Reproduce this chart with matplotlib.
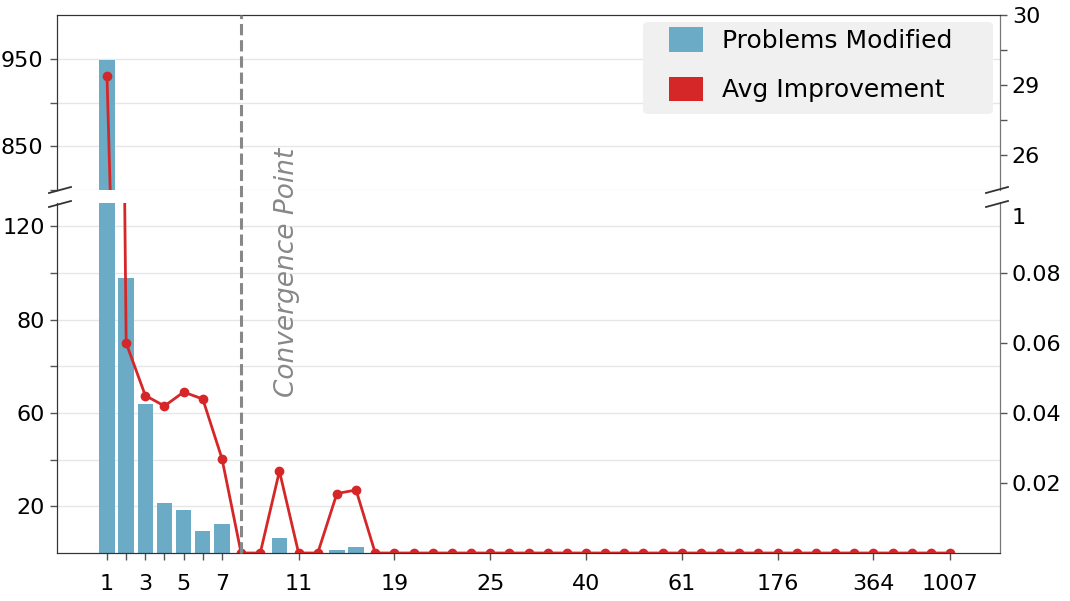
import numpy as np
import matplotlib
matplotlib.use("Agg")
import matplotlib.pyplot as plt
import matplotlib.transforms as mtransforms
from matplotlib.lines import Line2D
from matplotlib.patches import Patch, FancyBboxPatch

# data (45 steps)
problems_modified = [949, 98, 62, 21.5, 18.5, 9.5, 12.5, 0, 0, 6.5,
                     0, 0, 1.4, 2.5, 0, 0, 0, 0, 0, 0,
                     0, 0, 0, 0, 0, 0, 0, 0, 0, 0,
                     0, 0, 0, 0, 0, 0, 0, 0, 0, 0,
                     0, 0, 0, 0, 0]
avg_improvement = [29.13, 0.060, 0.045, 0.042, 0.046, 0.044, 0.027, 0, 0, 0.0234,
                   0, 0, 0.017, 0.018, 0, 0, 0, 0, 0, 0,
                   0, 0, 0, 0, 0, 0, 0, 0, 0, 0,
                   0, 0, 0, 0, 0, 0, 0, 0, 0, 0,
                   0, 0, 0, 0, 0]
tick_pos = [1, 2, 3, 4, 5, 6, 7, 11, 16, 21, 26, 31, 36, 41, 45]
tick_labels = ['1', '', '3', '', '5', '', '7', '11', '19', '25', '40', '61', '176', '364', '1007']
convergence_step = 8

BAR_COLOR = '#6babc6'
LINE_COLOR = '#d62728'
W, H = 1070, 601


def piecewise(vals, pos):
    # piecewise linear axis mapping, linear extrapolation at both ends
    def make(a, b):
        a = np.asarray(a, float)
        b = np.asarray(b, float)
        lo = (b[1] - b[0]) / (a[1] - a[0])
        hi = (b[-1] - b[-2]) / (a[-1] - a[-2])

        def f(v):
            v = np.asarray(v, float)
            out = np.interp(v, a, b)
            out = np.where(v < a[0], b[0] + (v - a[0]) * lo, out)
            out = np.where(v > a[-1], b[-1] + (v - a[-1]) * hi, out)
            return out
        return f
    return make(vals, pos), make(pos, vals)


x = np.arange(1, len(problems_modified) + 1)

fig = plt.figure(figsize=(W / 100, H / 100), dpi=100)
ax_top = fig.add_axes([57 / W, 1 - 190 / H, 943 / W, 175 / H])
ax_bot = fig.add_axes([57 / W, 1 - 553 / H, 943 / W, 350 / H])
ax_top_r = ax_top.twinx()
ax_bot_r = ax_bot.twinx()

for ax in (ax_top, ax_bot):
    ax.bar(x, problems_modified, width=0.8, color=BAR_COLOR, zorder=2)
    ax.set_xlim(1 - 50 / 19.16, 45 + 50 / 19.16)
    ax.grid(axis='y', which='both', color='#e6e6e6', lw=1)
    ax.set_axisbelow(True)

for ax in (ax_top_r, ax_bot_r):
    ax.plot(x, avg_improvement, color=LINE_COLOR, lw=2, marker='o', ms=6)

# left scales
ax_top.set_ylim(800, 1000)
ax_top.set_yticks([850, 950])
ax_top.set_yticks([800, 900], minor=True)

ax_bot.set_yscale('function', functions=piecewise([0, 20, 60, 80, 120], [0, 1, 3, 5, 7]))
ax_bot.set_ylim(0, 130)
ax_bot.set_yticks([20, 60, 80, 120])
ax_bot.set_yticks([40, 70, 100], minor=True)
ax_bot.yaxis.set_minor_formatter(plt.NullFormatter())

# right scales
ax_top_r.set_yscale('function', functions=piecewise([26, 29, 30], [0, 2, 4]))
ax_top_r.set_ylim(24.5, 30)
ax_top_r.set_yticks([26, 29, 30])
ax_top_r.set_yticks([27.5, 29.5], minor=True)
ax_top_r.yaxis.set_minor_formatter(plt.NullFormatter())

ax_bot_r.set_yscale('function', functions=piecewise([0, 0.08, 1], [0, 0.08, 0.0963]))
ax_bot_r.set_ylim(0, 1.21)
ax_bot_r.set_yticks([0.02, 0.04, 0.06, 0.08, 1])
ax_bot_r.set_yticklabels(['0.02', '0.04', '0.06', '0.08', '1'])
ax_bot_r.yaxis.set_minor_locator(plt.NullLocator())
ax_bot_r.yaxis.get_major_ticks()[-1].tick2line.set_visible(False)

# x axis
ax_top.tick_params(axis='x', bottom=False, labelbottom=False)
ax_bot.set_xticks(tick_pos)
ax_bot.set_xticklabels(tick_labels)

for ax in (ax_top, ax_bot, ax_top_r, ax_bot_r):
    ax.tick_params(which='both', direction='out', length=5, width=1,
                   labelsize=16, color='#555555')
    for s in ax.spines.values():
        s.set_color('#333333')
    ax.spines['right'].set_color('#777777')
for ax in (ax_top, ax_top_r):
    ax.spines['bottom'].set_visible(False)
for ax in (ax_bot, ax_bot_r):
    ax.spines['top'].set_visible(False)
ax_bot.tick_params(axis='x', pad=10)
ax_top.tick_params(axis='y', pad=5)


# break marks
def brk(xc, yc):
    fig.add_artist(Line2D([(xc - 11) / W, (xc + 11) / W], [1 - (yc + 3) / H, 1 - (yc - 3) / H],
                          transform=fig.transFigure, color='#333333', lw=1.3))


for xc in (60, 997):
    brk(xc, 190)
    brk(xc, 204)

# convergence marker
trans = mtransforms.blended_transform_factory(ax_bot.transData, fig.transFigure)
fig.add_artist(Line2D([convergence_step, convergence_step], [1 - 553 / H, 1 - 15 / H],
                      transform=trans, ls='--', color='#888888', lw=2.2))
fig.text(287 / W, 1 - 272 / H, 'Convergence Point', rotation=90, ha='center', va='center',
         fontsize=19, color='#888888', style='italic')

# legend: grey rounded panel + frameless legend on top of it
panel = FancyBboxPatch((643 / W, 1 - 114 / H), 350 / W, 92 / H,
                       boxstyle='round,pad=0,rounding_size=0.006',
                       transform=fig.transFigure, facecolor='#f0f0f0', edgecolor='none',
                       clip_on=False, zorder=9)
ax_top_r.add_patch(panel)
handles = [Patch(facecolor=BAR_COLOR), Patch(facecolor=LINE_COLOR)]
leg = ax_top_r.legend(handles, ['Problems Modified', 'Avg Improvement'],
                      loc='upper left', bbox_to_anchor=(669 / W, 1 - 27 / H),
                      bbox_transform=fig.transFigure, borderaxespad=0, borderpad=0,
                      fontsize=18, frameon=False, handlelength=1.36, handleheight=1.15,
                      handletextpad=0.76, labelspacing=0.95)
leg.set_zorder(10)

fig.savefig('out.png', dpi=100)
